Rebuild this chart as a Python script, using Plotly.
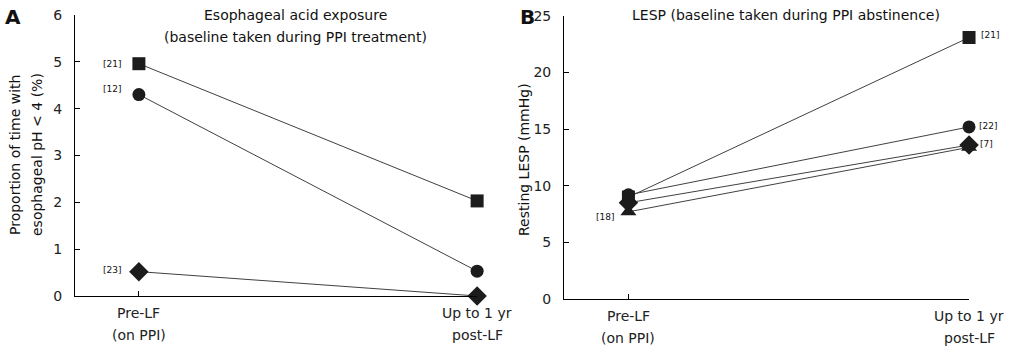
import plotly.graph_objects as go

categories = ["Pre-LF<br>(on PPI)", "Up to 1 yr<br>post-LF"]

# Panel A: esophageal acid exposure (%)
acid_square = [4.96, 2.03]
acid_circle = [4.30, 0.53]
acid_diamond = [0.52, 0.0]
acid_refs = ["[21]", "[12]", "[23]"]
acid_ticks = [0, 1, 2, 3, 4, 5, 6]

# Panel B: resting LESP (mmHg)
lesp_square = [9.0, 23.1]
lesp_circle = [9.2, 15.2]
lesp_diamond = [8.5, 13.6]
lesp_triangle = [7.7, 13.4]
lesp_refs = ["[21]", "[22]", "[7]", "[18]"]
lesp_ticks = [0, 5, 10, 15, 20, 25]

FONT = "DejaVu Sans"
MK = "#1c1c1c"
LN = "#404040"

fig = go.Figure()

def add(xa, ya, y, symbol, size):
    fig.add_trace(go.Scatter(
        x=categories, y=y, xaxis=xa, yaxis=ya, mode="lines+markers",
        line=dict(color=LN, width=1),
        marker=dict(symbol=symbol, size=size, color=MK, line=dict(width=0)),
        cliponaxis=False, showlegend=False, hoverinfo="skip"))

add("x", "y", acid_square, "square", 13)
add("x", "y", acid_circle, "circle", 13)
add("x", "y", acid_diamond, "diamond", 15)

add("x2", "y2", lesp_triangle, "triangle-up", 14)
add("x2", "y2", lesp_diamond, "diamond", 15)
add("x2", "y2", lesp_square, "square", 13)
add("x2", "y2", lesp_circle, "circle", 13)

axis_common = dict(showline=True, linecolor="black", linewidth=1, ticks="inside",
                   ticklen=5, tickcolor="black", showgrid=False, zeroline=False,
                   automargin=False,
                   tickfont=dict(family=FONT, size=14, color="#222"))

fig.update_layout(
    width=1013, height=353,
    margin=dict(l=0, r=0, t=0, b=0, pad=0, autoexpand=False),
    paper_bgcolor="white", plot_bgcolor="white",
    font=dict(family=FONT, color="#222"),
    xaxis=dict(domain=[0.074, 0.471], anchor="y", type="category",
               range=[-0.189, 1], showticklabels=False, **axis_common),
    yaxis=dict(domain=[0.1615, 0.9575], anchor="x", range=[0, 6],
               tickvals=acid_ticks, ticklabelstandoff=9, **axis_common),
    xaxis2=dict(domain=[0.5568, 0.9566], anchor="y2", type="category",
                range=[-0.189, 1], showticklabels=False, **axis_common),
    yaxis2=dict(domain=[0.153, 0.9547], anchor="x2", range=[0, 25],
                tickvals=lesp_ticks, ticklabelstandoff=9, **axis_common),
)

ann = []
def a(text, x, y, size=14, bold=False, angle=0):
    ann.append(dict(text=("<b>%s</b>" % text) if bold else text, x=x / 1013, y=1 - y / 353,
                    xref="paper", yref="paper", showarrow=False, textangle=angle,
                    xanchor="center", yanchor="middle",
                    font=dict(family=FONT, size=size, color="#111")))

a("A", 13, 17, size=20, bold=True)
a("B", 527, 17, size=20, bold=True)
a("Esophageal acid exposure", 295, 15)
a("(baseline taken during PPI treatment)", 295, 37)
a("LESP (baseline taken during PPI abstinence)", 786, 15)
a("Proportion of time with", 15, 155, angle=-90)
a("esophageal pH < 4 (%)", 37, 155, angle=-90)
a("Resting LESP (mmHg)", 524, 160, angle=-90)

# category labels under each x axis (two lines, reference spacing)
for xa, ya in (("x", "y"), ("x2", "y2")):
    for cat in categories:
        for i, line in enumerate(cat.split("<br>")):
            ann.append(dict(text=line, x=cat, y=0, xref=xa, yref=ya, showarrow=False,
                            yshift=-17 - 22 * i, xanchor="center", yanchor="middle",
                            font=dict(family=FONT, size=14, color="#222")))

def ref(text, xa, ya, cat, yv, dx):
    ann.append(dict(text=text, x=cat, y=yv, xref=xa, yref=ya, showarrow=False,
                    xshift=dx, xanchor="center", yanchor="middle",
                    font=dict(family=FONT, size=9, color="#111")))

ref(acid_refs[0], "x", "y", categories[0], acid_square[0], -27)
ref(acid_refs[1], "x", "y", categories[0], acid_circle[0] + 0.12, -27)
ref(acid_refs[2], "x", "y", categories[0], acid_diamond[0] + 0.04, -27)
ref(lesp_refs[0], "x2", "y2", categories[1], lesp_square[1] + 0.25, 21)
ref(lesp_refs[1], "x2", "y2", categories[1], lesp_circle[1] + 0.1, 19)
ref(lesp_refs[2], "x2", "y2", categories[1], lesp_diamond[1] + 0.1, 17)
ref(lesp_refs[3], "x2", "y2", categories[0], lesp_triangle[0] - 0.5, -23)

fig.update_layout(annotations=ann)
fig.write_html("out.html")
